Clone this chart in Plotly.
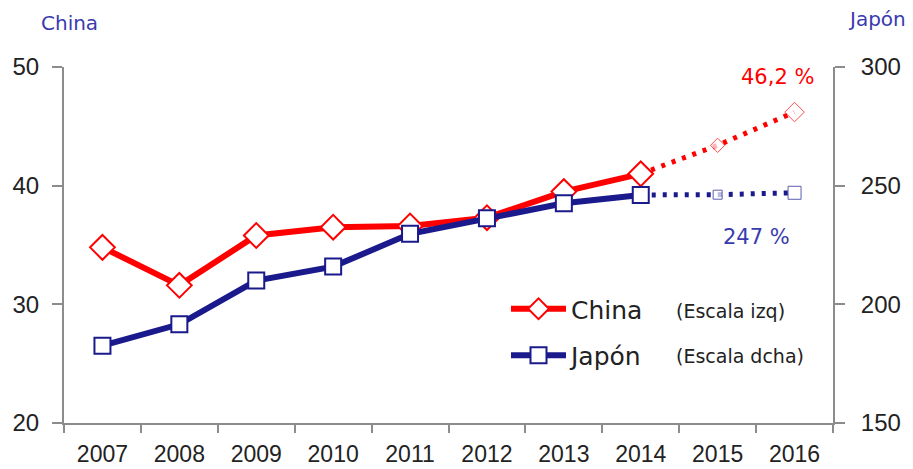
import plotly.graph_objects as go

years = ['2007', '2008', '2009', '2010', '2011', '2012', '2013', '2014', '2015', '2016']
actual_years = years[:8]
proj_years = years[7:]          # 2014 (link point) + 2015, 2016
china = [34.8, 31.6, 35.8, 36.5, 36.6, 37.3, 39.5, 41.0]
china_proj = [43.4, 46.2]
japan = [182.6, 191.6, 210.0, 215.9, 229.7, 236.3, 242.6, 246.1]
japan_proj = [246.2, 247.0]

RED = '#ff0000'
NAVY = '#1a1a8c'
TITLE_BLUE = '#3a3ab0'
GRAY = '#8c8c8c'
FONT = 'DejaVu Sans'
NUMFONT = 'Liberation Sans'

fig = go.Figure()

# dotted projections
fig.add_trace(go.Scatter(x=proj_years, y=[china[-1]] + china_proj, mode='lines',
                         line=dict(color=RED, width=5, dash='4px,7px'),
                         showlegend=False, hoverinfo='skip'))
fig.add_trace(go.Scatter(x=proj_years, y=[japan[-1]] + japan_proj, mode='lines', yaxis='y2',
                         line=dict(color=NAVY, width=5, dash='4px,7px'),
                         showlegend=False, hoverinfo='skip'))
# projected markers
fig.add_trace(go.Scatter(x=years[8:], y=china_proj, mode='markers',
                         marker=dict(symbol='diamond', size=[11, 15], color='white',
                                     line=dict(color=RED, width=1)),
                         showlegend=False))
fig.add_trace(go.Scatter(x=years[8:], y=japan_proj, mode='markers', yaxis='y2',
                         marker=dict(symbol='square', size=[9, 13], color='white',
                                     line=dict(color=NAVY, width=1)),
                         showlegend=False))
# actual series
fig.add_trace(go.Scatter(x=actual_years, y=china, mode='lines+markers', name='China',
                         legendgroup='a',
                         line=dict(color=RED, width=6),
                         marker=dict(symbol='diamond', size=19, color='white',
                                     line=dict(color=RED, width=2))))
fig.add_trace(go.Scatter(x=actual_years, y=japan, mode='lines+markers', name='Japón',
                         yaxis='y2', legendgroup='b',
                         line=dict(color=NAVY, width=6),
                         marker=dict(symbol='square', size=16, color='white',
                                     line=dict(color=NAVY, width=2))))

last_idx = len(years) - 1
annotations = [
    dict(text='China', xref='paper', yref='paper', x=-0.0325, y=1.1236,
         xanchor='left', yanchor='middle', showarrow=False,
         font=dict(family=FONT, size=20, color=TITLE_BLUE)),
    dict(text='Japón', xref='paper', yref='paper', x=(846 - 64) / 769, y=1.135,
         xanchor='left', yanchor='middle', showarrow=False,
         font=dict(family=FONT, size=20, color=TITLE_BLUE)),
    dict(text=f'{china_proj[-1]:.1f} %'.replace('.', ','), x=last_idx, y=china_proj[-1],
         xref='x', yref='y', xshift=-17, yshift=35, showarrow=False,
         font=dict(family=FONT, size=21, color=RED)),
    dict(text=f'{japan_proj[-1]:.0f} %', x=last_idx, y=japan_proj[-1],
         xref='x', yref='y2', xshift=-38, yshift=-44, showarrow=False,
         font=dict(family=FONT, size=21, color=TITLE_BLUE)),
    dict(text='(Escala izq)', xref='paper', yref='paper', x=(674 - 64) / 769, y=(423 - 311) / 356,
         xanchor='left', yanchor='middle', showarrow=False,
         font=dict(family=FONT, size=19, color='#222222')),
    dict(text='(Escala dcha)', xref='paper', yref='paper', x=(674 - 64) / 769, y=(423 - 356) / 356,
         xanchor='left', yanchor='middle', showarrow=False,
         font=dict(family=FONT, size=19, color='#222222')),
]

fig.update_layout(
    width=913, height=469,
    margin=dict(l=64, r=80, t=67, b=46, autoexpand=False),
    paper_bgcolor='white', plot_bgcolor='white',
    showlegend=True,
    legend=dict(x=(506 - 64) / 769, y=(423 - 286) / 356, xanchor='left', yanchor='top',
                bgcolor='rgba(0,0,0,0)', font=dict(family=FONT, size=25, color='#222222'),
                itemwidth=55, tracegroupgap=11, traceorder='grouped'),
    xaxis=dict(type='category', categoryorder='array', categoryarray=years,
               range=[-0.5, 9.5], tickson='boundaries', ticks='outside', ticklen=8,
               tickcolor=GRAY, tickwidth=2, showline=True, linecolor=GRAY, linewidth=2,
               showgrid=False, zeroline=False, automargin=False, ticklabelstandoff=9,
               tickfont=dict(family=NUMFONT, size=23, color='#222222')),
    yaxis=dict(range=[20, 50], dtick=10, tick0=20, ticks='outside', ticklen=10,
               tickcolor=GRAY, tickwidth=2, showline=True, linecolor=GRAY, linewidth=2,
               showgrid=False, zeroline=False, ticklabelstandoff=8, automargin=False,
               tickfont=dict(family=NUMFONT, size=24, color='#222222')),
    yaxis2=dict(range=[150, 300], dtick=50, tick0=150, overlaying='y', side='right',
                ticks='outside', ticklen=10, tickcolor=GRAY, tickwidth=2,
                showline=True, linecolor=GRAY, linewidth=2, showgrid=False, zeroline=False,
                ticklabelstandoff=11, automargin=False,
                tickfont=dict(family=NUMFONT, size=24, color='#222222')),
    annotations=annotations,
)

fig.write_html('out.html', config={'displayModeBar': False},
               post_script="document.body.style.margin='0';document.body.style.overflow='hidden';")
